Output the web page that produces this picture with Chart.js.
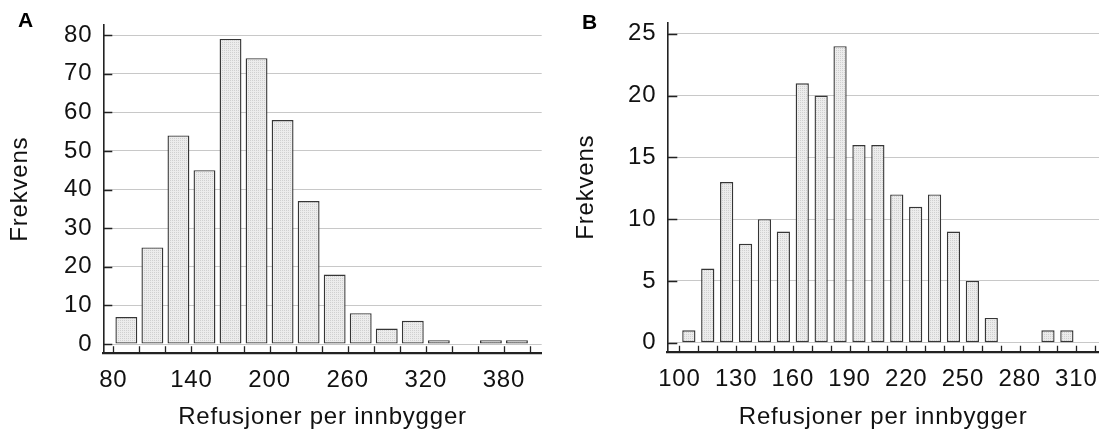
<!DOCTYPE html>
<html>
<head>
<meta charset="utf-8">
<script src="https://cdn.jsdelivr.net/npm/chart.js@4.4.1/dist/chart.umd.min.js"></script>
<style>
    html, body { margin: 0; padding: 0; background: #fff; }
    #wrap { position: relative; width: 1099px; height: 432px; overflow: hidden; }
    canvas { position: absolute; top: 0; }
    .tag { position: absolute; font: bold 21px 'Liberation Sans', Arial, sans-serif; color: #000; line-height: 24px; }
</style>
</head>
<body>
<div id="wrap">
    <canvas id="chartA" width="550" height="432" style="left:0"></canvas>
    <canvas id="chartB" width="549" height="432" style="left:550px"></canvas>
    <div class="tag" style="left:18px;top:8px">A</div>
    <div class="tag" style="left:582px;top:10px">B</div>
</div>
<script>
const FONT = "'Liberation Sans', Arial, sans-serif";
const FONT_SIZE = 24;

// Panel A - bins of 20
const aBinStarts = [80, 100, 120, 140, 160, 180, 200, 220, 240, 260, 280, 300, 320, 340, 360, 380];
const aCounts = [7, 25, 54, 45, 79, 74, 58, 37, 18, 8, 4, 6, 1, 0, 1, 1];
const aXTicks = [80, 100, 120, 140, 160, 180, 200, 220, 240, 260, 280, 300, 320, 340, 360, 380, 400];
const aXLabels = [80, 140, 200, 260, 320, 380];
const aYTicks = [0, 5, 10, 15, 20, 25, 30, 35, 40, 45, 50, 55, 60, 65, 70, 75, 80];
const aYLabels = [0, 10, 20, 30, 40, 50, 60, 70, 80];

// Panel B - bins of 10
const bBinStarts = [100, 110, 120, 130, 140, 150, 160, 170, 180, 190, 200, 210, 220, 230, 240, 250, 260, 270, 280, 290, 300];
const bCounts = [1, 6, 13, 8, 10, 9, 21, 20, 24, 16, 16, 12, 11, 12, 9, 5, 2, 0, 0, 1, 1];
const bXTicks = [100, 110, 120, 130, 140, 150, 160, 170, 180, 190, 200, 210, 220, 230, 240, 250, 260, 270, 280, 290, 300, 310, 320];
const bXLabels = [100, 130, 160, 190, 220, 250, 280, 310];
const bYTicks = [0, 5, 10, 15, 20, 25];
const bYLabels = [0, 5, 10, 15, 20, 25];

const xTitle = 'Refusjoner per innbygger';
const yTitle = 'Frekvens';

function stipple() {
    const c = document.createElement('canvas');
    c.width = 2; c.height = 2;
    const g = c.getContext('2d');
    g.fillStyle = '#ececec';
    g.fillRect(0, 0, 2, 2);
    g.fillStyle = '#d0d0d0';
    g.fillRect(0, 0, 1, 1);
    return g.createPattern(c, 'repeat');
}

// the source figure's text is a bit wider than plain Arial
const textSpacing = {
    id: 'textSpacing',
    beforeUpdate(chart) { chart.ctx.letterSpacing = '0.8px'; },
    beforeDraw(chart) { chart.ctx.letterSpacing = '0.8px'; }
};

// ticks pointing into the plot, as in the original figure
const innerTicks = {
    id: 'innerTicks',
    afterDatasetsDraw(chart, args, opts) {
        const { ctx, chartArea, scales: { x, y } } = chart;
        ctx.save();
        ctx.strokeStyle = '#222';
        ctx.lineWidth = 1.3;
        ctx.beginPath();
        x.ticks.forEach(t => {
            const px = Math.round(x.getPixelForValue(t.value)) + 0.5;
            ctx.moveTo(px, chartArea.bottom);
            ctx.lineTo(px, chartArea.bottom - opts.xLen);
        });
        y.ticks.forEach(t => {
            const py = Math.round(y.getPixelForValue(t.value)) + 0.5;
            const len = opts.yMajor.includes(t.value) ? opts.yLen : opts.yMinorLen;
            ctx.moveTo(chartArea.left, py);
            ctx.lineTo(chartArea.left + len, py);
        });
        ctx.stroke();
        ctx.restore();
    }
};

function makeChart(id, cfg) {
    const binHalf = cfg.binWidth / 2;
    return new Chart(document.getElementById(id), {
        type: 'bar',
        data: {
            datasets: [{
                data: cfg.starts.map((s, i) => ({ x: s + binHalf, y: cfg.counts[i] })),
                backgroundColor: stipple(),
                borderColor: '#363636',
                borderWidth: c => (c.raw && c.raw.y === 0 ? 0 : 1.4),
                borderSkipped: false,
                categoryPercentage: 1,
                barPercentage: cfg.barPct
            }]
        },
        options: {
            responsive: false,
            animation: false,
            devicePixelRatio: 1,
            layout: { padding: { top: cfg.top, right: cfg.right, left: 0, bottom: 0 } },
            plugins: {
                legend: { display: false },
                tooltip: { enabled: false },
                innerTicks: { xLen: cfg.xTickLen, yLen: cfg.yTickLen, yMinorLen: 4, yMajor: cfg.yLabels }
            },
            scales: {
                x: {
                    type: 'linear',
                    offset: false,
                    min: cfg.xMin,
                    max: cfg.xMax,
                    afterBuildTicks: s => { s.ticks = cfg.xTicks.map(v => ({ value: v })); },
                    afterFit: s => { s.height = cfg.xHeight; s.paddingLeft = 0; s.paddingRight = 0; },
                    grid: { display: true, drawOnChartArea: false, drawTicks: false, color: 'rgba(0,0,0,0)' },
                    border: { display: true, color: '#222', width: 2.2 },
                    ticks: {
                        autoSkip: false,
                        maxRotation: 0,
                        padding: 13,
                        color: '#111',
                        font: { family: FONT, size: FONT_SIZE },
                        callback: v => (cfg.xLabels.includes(v) ? String(v) : '')
                    },
                    title: {
                        display: true,
                        text: xTitle,
                        color: '#111',
                        font: { family: FONT, size: FONT_SIZE },
                        padding: { top: 0, bottom: 0 }
                    }
                },
                y: {
                    min: cfg.yMin,
                    max: cfg.yMax,
                    afterBuildTicks: s => { s.ticks = cfg.yTicks.map(v => ({ value: v })); },
                    afterFit: s => { s.width = cfg.yWidth; s.paddingTop = 0; s.paddingBottom = 0; },
                    grid: {
                        drawTicks: false,
                        lineWidth: 1,
                        color: c => (c.tick && cfg.yLabels.includes(c.tick.value) ? '#c8c8c8' : 'rgba(0,0,0,0)')
                    },
                    border: { display: true, color: '#222', width: 1.6 },
                    ticks: {
                        padding: 11,
                        color: '#111',
                        font: { family: FONT, size: FONT_SIZE },
                        callback: v => (cfg.yLabels.includes(v) ? String(v) : '')
                    },
                    title: {
                        display: true,
                        text: yTitle,
                        color: '#111',
                        font: { family: FONT, size: FONT_SIZE },
                        padding: { top: cfg.yTitlePad, bottom: 0 }
                    }
                }
            }
        },
        plugins: [textSpacing, innerTicks]
    });
}

makeChart('chartA', {
    starts: aBinStarts, counts: aCounts, binWidth: 20, barPct: 0.84,
    xTicks: aXTicks, xLabels: aXLabels, yTicks: aYTicks, yLabels: aYLabels,
    xMin: 72.3, xMax: 409, yMin: -2.4, yMax: 82.6,
    top: 25, right: 8.3, xHeight: 78.7, yWidth: 103.3, yTitlePad: 5.5,
    xTickLen: 7, yTickLen: 9
});

makeChart('chartB', {
    starts: bBinStarts, counts: bCounts, binWidth: 10, barPct: 0.70,
    xTicks: bXTicks, xLabels: bXLabels, yTicks: bYTicks, yLabels: bYLabels,
    xMin: 93.6, xMax: 322, yMin: -0.73, yMax: 25.9,
    top: 22.7, right: 0, xHeight: 80.3, yWidth: 117.3, yTitlePad: 22,
    xTickLen: 6, yTickLen: 10
});
</script>
</body>
</html>
